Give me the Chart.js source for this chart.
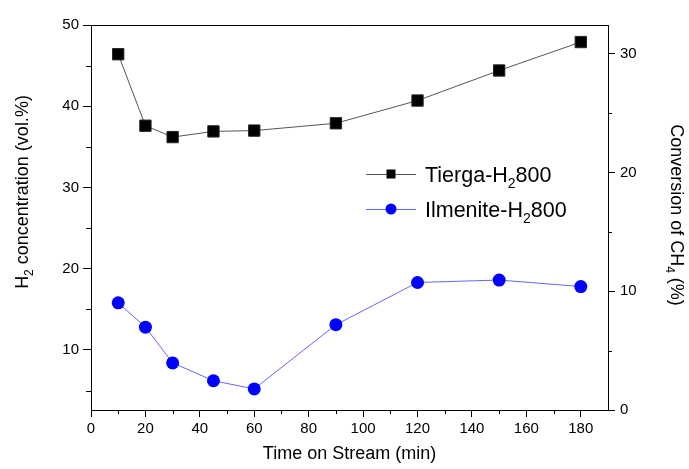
<!DOCTYPE html>
<html>
<head>
<meta charset="utf-8">
<script src="https://cdn.jsdelivr.net/npm/chart.js@4.4.1/dist/chart.umd.min.js"></script>
<style>
  html, body { margin: 0; padding: 0; background: #fff; }
  #chart { display: block; }
</style>
</head>
<body>
<canvas id="chart" width="689" height="469"></canvas>
<script>
// time on stream (min)
const times = [10, 20, 30, 45, 60, 90, 120, 150, 180];
// H2 concentration (vol.%)
const tiergaH2 = [46.4, 37.6, 36.2, 36.9, 37.0, 37.9, 40.7, 44.4, 47.9];
const ilmeniteH2 = [15.8, 12.8, 8.4, 6.2, 5.2, 13.1, 18.3, 18.6, 17.8];

const seriesNames = ['Tierga-H', 'Ilmenite-H'];

// ticks
const xTicks = [0, 20, 40, 60, 80, 100, 120, 140, 160, 180];
const xMinorTicks = [10, 30, 50, 70, 90, 110, 130, 150, 170];
const leftTicks = [10, 20, 30, 40, 50];
const leftMinorTicks = [5, 15, 25, 35, 45];
const rightTicks = [0, 10, 20, 30];
const rightMinorTicks = [5, 15, 25];

const FONT = '"Liberation Sans", Arial, sans-serif';

// text with a subscript part, optionally rotated
const drawRich = (ctx, parts, x, y, angle, align) => {
  ctx.save();
  ctx.translate(x, y);
  ctx.rotate(angle);
  let total = 0;
  parts.forEach((p) => {
    ctx.font = p.size + 'px ' + FONT;
    p.w = ctx.measureText(p.text).width;
    total += p.w;
  });
  let xx = align === 'left' ? 0 : -total / 2;
  ctx.fillStyle = '#000';
  ctx.textAlign = 'left';
  ctx.textBaseline = 'alphabetic';
  parts.forEach((p) => {
    ctx.font = p.size + 'px ' + FONT;
    ctx.fillText(p.text, xx, p.dy);
    xx += p.w;
  });
  ctx.restore();
};

// minor ticks, top frame line, axis titles and legend
const extras = {
  id: 'extras',
  afterDraw(chart) {
    const ctx = chart.ctx;
    const { x, y, y1 } = chart.scales;
    const area = chart.chartArea;
    ctx.save();
    ctx.strokeStyle = '#000';
    ctx.lineWidth = 1;
    ctx.beginPath();
    xMinorTicks.forEach((v) => {
      const px = Math.round(x.getPixelForValue(v)) + 0.5;
      ctx.moveTo(px, area.bottom);
      ctx.lineTo(px, area.bottom + 4);
    });
    leftMinorTicks.forEach((v) => {
      const py = Math.round(y.getPixelForValue(v)) + 0.5;
      ctx.moveTo(area.left, py);
      ctx.lineTo(area.left - 5, py);
    });
    rightMinorTicks.forEach((v) => {
      const py = Math.round(y1.getPixelForValue(v)) + 0.5;
      ctx.moveTo(area.right, py);
      ctx.lineTo(area.right + 4, py);
    });
    ctx.moveTo(area.left - 8, Math.round(area.top) + 0.5);
    ctx.lineTo(area.right, Math.round(area.top) + 0.5);
    ctx.stroke();
    ctx.restore();

    // axis titles
    drawRich(ctx, [
      { text: 'Time on Stream (min)', size: 18, dy: 6 },
    ], (area.left + area.right) / 2, 453, 0);
    drawRich(ctx, [
      { text: 'H', size: 18, dy: 6 },
      { text: '2', size: 12, dy: 11 },
      { text: ' concentration (vol.%)', size: 18, dy: 6 },
    ], 22, 192, -Math.PI / 2);
    drawRich(ctx, [
      { text: 'Conversion of CH', size: 18, dy: 6 },
      { text: '4', size: 12, dy: 11 },
      { text: ' (%)', size: 18, dy: 6 },
    ], 677, 215, Math.PI / 2);

    // legend
    const rows = [
      { y: 174, line: '#555', fill: '#000', style: 'rect' },
      { y: 209, line: '#6666ff', fill: '#0000ff', style: 'circle' },
    ];
    rows.forEach((r, i) => {
      ctx.save();
      ctx.strokeStyle = r.line;
      ctx.lineWidth = 1;
      ctx.beginPath();
      ctx.moveTo(366, r.y + 0.5);
      ctx.lineTo(416, r.y + 0.5);
      ctx.stroke();
      ctx.fillStyle = r.fill;
      if (r.style === 'rect') {
        ctx.fillRect(386.5, r.y - 4.5, 9, 9);
      } else {
        ctx.beginPath();
        ctx.arc(391, r.y, 5.5, 0, Math.PI * 2);
        ctx.fill();
      }
      ctx.restore();
      drawRich(ctx, [
        { text: seriesNames[i], size: 21.5, dy: 8 },
        { text: '2', size: 14, dy: 14 },
        { text: '800', size: 21.5, dy: 8 },
      ], 425, r.y, 0, 'left');
    });
  },
};

const toPoints = (values) => values.map((v, i) => ({ x: times[i], y: v }));
const setTicks = (list) => (scale) => {
  scale.ticks = list.map((v) => ({ value: v }));
};

const ctx = document.getElementById('chart').getContext('2d');
new Chart(ctx, {
  type: 'line',
  data: {
    datasets: [
      {
        label: 'Tierga-H2800',
        data: toPoints(tiergaH2),
        borderColor: '#555',
        borderWidth: 1,
        pointStyle: 'rect',
        pointRadius: 8,
        pointBackgroundColor: '#000',
        pointBorderColor: '#222',
        pointBorderWidth: 1,
        yAxisID: 'y',
      },
      {
        label: 'Ilmenite-H2800',
        data: toPoints(ilmeniteH2),
        borderColor: '#6666ff',
        borderWidth: 1,
        pointStyle: 'circle',
        pointRadius: 6.5,
        pointBackgroundColor: '#0000ff',
        pointBorderColor: '#0000ff',
        pointBorderWidth: 0,
        yAxisID: 'y',
      },
    ],
  },
  options: {
    responsive: false,
    animation: false,
    layout: { padding: { top: 25, left: 0, right: 0, bottom: 0 } },
    plugins: { legend: { display: false }, tooltip: { enabled: false } },
    scales: {
      x: {
        type: 'linear',
        min: 0,
        max: 190,
        afterBuildTicks: setTicks(xTicks),
        afterFit: (scale) => { scale.height = 59; },
        grid: { drawOnChartArea: false, tickLength: 7, color: '#000' },
        border: { color: '#000', width: 1 },
        ticks: { color: '#000', font: { size: 15, family: FONT }, padding: 3, maxRotation: 0, autoSkip: false },
      },
      y: {
        type: 'linear',
        position: 'left',
        min: 2.6,
        max: 50,
        afterBuildTicks: setTicks(leftTicks),
        afterFit: (scale) => { scale.width = 91; },
        grid: { drawOnChartArea: false, tickLength: 8, color: '#000' },
        border: { color: '#000', width: 1 },
        ticks: { color: '#000', font: { size: 15, family: FONT }, padding: 4 },
      },
      y1: {
        type: 'linear',
        position: 'right',
        min: 0,
        max: 32.44,
        afterBuildTicks: setTicks(rightTicks),
        afterFit: (scale) => { scale.width = 81; },
        grid: { drawOnChartArea: false, tickLength: 7, color: '#000' },
        border: { color: '#000', width: 1 },
        ticks: { color: '#000', font: { size: 15, family: FONT }, padding: 5 },
      },
    },
  },
  plugins: [extras],
});
</script>
</body>
</html>
